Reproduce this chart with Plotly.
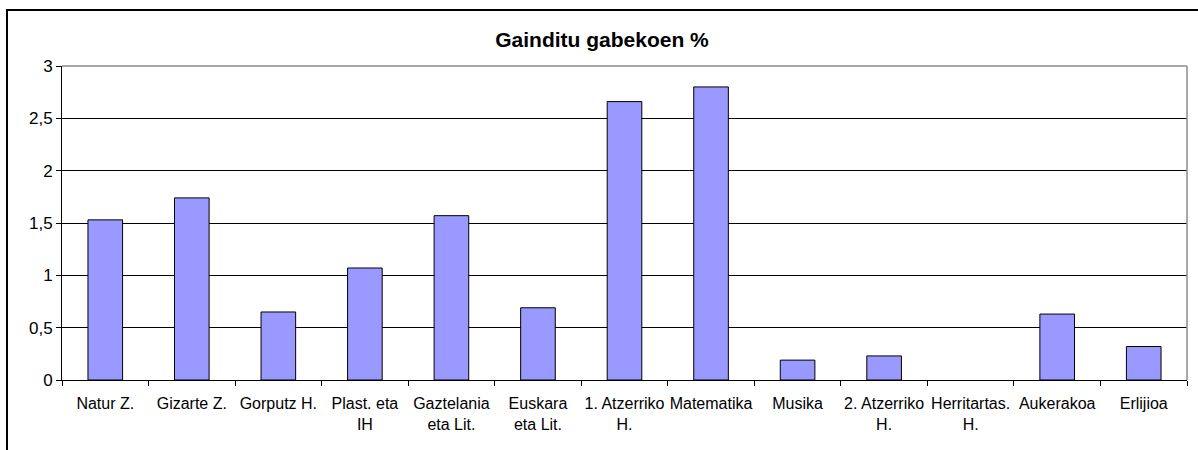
import plotly.graph_objects as go

categories = ["Natur Z.", "Gizarte Z.", "Gorputz H.", "Plast. eta<br>IH", "Gaztelania<br>eta Lit.",
              "Euskara<br>eta Lit.", "1. Atzerriko<br>H.", "Matematika", "Musika", "2. Atzerriko<br>H.",
              "Herritartas.<br>H.", "Aukerakoa", "Erlijioa"]
values = [1.53, 1.74, 0.65, 1.07, 1.57, 0.69, 2.66, 2.80, 0.19, 0.23, 0.0, 0.63, 0.32]
y_ticks = [0, 0.5, 1, 1.5, 2, 2.5, 3]
title = "Gainditu gabekoen %"

W, H = 1198, 450
L, R, T, B = 62, 11, 66, 70
pw, ph = W - L - R, H - T - B

fig = go.Figure(go.Bar(
    x=categories, y=values,
    marker=dict(color="#9999FF",
                line=dict(color="black", width=[1 if v > 0 else 0 for v in values])),
    width=0.4,
))

font = "Liberation Sans, Arial, sans-serif"
fig.update_layout(
    width=W, height=H,
    margin=dict(l=L, r=R, t=T, b=B, autoexpand=False),
    paper_bgcolor="white", plot_bgcolor="white",
    separators=",.",
    showlegend=False,
    font=dict(family=font, size=16, color="black"),
    title=dict(text="<b>" + title + "</b>", x=602 / W, xanchor="center",
               y=1 - 40 / H, yanchor="middle", font=dict(size=21, family=font, color="black")),
    xaxis=dict(showline=True, linecolor="black", linewidth=1, ticks="outside", ticklen=5,
               tickcolor="black", tickson="boundaries", showgrid=False, tickangle=0,
               automargin=False, ticklabelstandoff=9,
               tickfont=dict(size=16, family=font, color="black")),
    yaxis=dict(range=[0, 3], tickvals=y_ticks, showline=True, linecolor="black", linewidth=1,
               ticks="outside", ticklen=5, tickcolor="black", showgrid=True,
               gridcolor="black", gridwidth=1, zeroline=False, automargin=False,
               tickfont=dict(size=17, family=font, color="black")),
    shapes=[
        dict(type="line", xref="paper", yref="paper", x0=0, x1=1, y0=1, y1=1,
             line=dict(color="#8c8c8c", width=1.5), layer="above"),
        dict(type="line", xref="paper", yref="paper", x0=1, x1=1, y0=0, y1=1,
             line=dict(color="#8c8c8c", width=1.5), layer="above"),
        dict(type="rect", xref="paper", yref="paper",
             x0=(7 - L) / pw, x1=1.2, y0=-0.6, y1=(H - B - 10) / ph,
             line=dict(color="black", width=2), fillcolor="rgba(0,0,0,0)", layer="below"),
    ],
)

fig.write_html("out.html", config={"displayModeBar": False},
               post_script="document.body.style.margin='0';document.body.style.padding='0';")
